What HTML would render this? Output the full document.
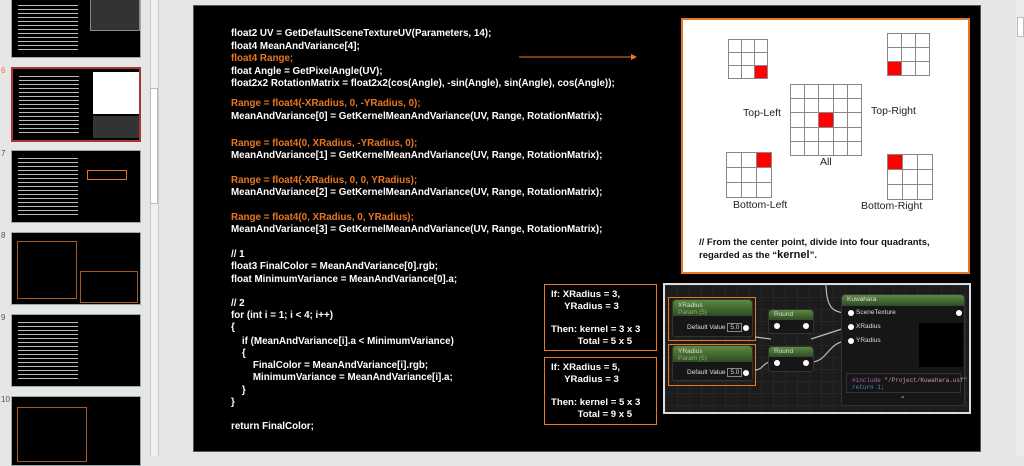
<!DOCTYPE html>
<html><head><meta charset="utf-8"><style>
*{margin:0;padding:0;box-sizing:border-box}
body{width:1024px;height:456px;overflow:hidden;background:#e6e6e6;font-family:"Liberation Sans",Arial,sans-serif;position:relative}
.a{position:absolute}
.th{position:absolute;left:11px;width:130px;background:#000;border:1px solid #9aa;overflow:hidden}
.tx{position:absolute;left:6px;width:60px;background:repeating-linear-gradient(#000 0 2px,#bbb 2px 3px,#000 3px 4px)}
.num{position:absolute;left:1px;font-size:8px;color:#555}
.code{position:absolute;left:231px;top:0;font-size:10.5px;font-weight:bold;color:#fff;white-space:pre;transform:scaleX(0.935);transform-origin:0 0;line-height:12px}
.code div{position:absolute;left:0}
.o{color:#e87722}
.grid{position:absolute;display:grid;border:1px solid #888;background:#888;gap:1px}
.grid b{background:#fff;display:block}
.grid b.r{background:#f00}
.lbl{position:absolute;font-size:10.5px;color:#222;white-space:nowrap}
.cb{position:absolute;border:1.5px solid #e87722;color:#fff;font-size:9.6px;font-weight:bold;line-height:11.8px;padding:4px 0 0 6px;white-space:pre}
.node{position:absolute;background:#161616;border-radius:3px;border:1px solid #333}
.nh{height:16px;background:linear-gradient(#5c8a3e,#2f4a26);border-radius:3px 3px 0 0;color:#ddd;font-size:6.5px;padding:2px 5px;position:relative}
.pin{position:absolute;width:6px;height:6px;border-radius:50%;background:#fff}
.t{position:absolute;font-size:6.5px;color:#ddd;white-space:nowrap}
</style></head><body>
<!-- left panel thumbnails -->
<div class="th" style="top:-20px;height:78px"><div class="tx" style="top:22px;height:50px"></div><div class="a" style="left:78px;top:0;width:50px;height:50px;background:#333;border:1px solid #888"></div></div>
<div class="num" style="top:66px;color:#e87722">6</div>
<div class="th" style="top:67px;height:75px;border:2px solid #a33"><div class="tx" style="top:5px;height:62px"></div><div class="a" style="left:80px;top:3px;width:46px;height:42px;background:#fff"></div><div class="a" style="left:80px;top:47px;width:46px;height:22px;background:#333"></div></div>
<div class="num" style="top:149px">7</div>
<div class="th" style="top:150px;height:73px"><div class="tx" style="top:5px;height:60px"></div><div class="a" style="left:75px;top:19px;width:40px;height:10px;border:1px solid #e87722"></div></div>
<div class="num" style="top:231px">8</div>
<div class="th" style="top:232px;height:73px"><div class="a" style="left:5px;top:8px;width:60px;height:58px;border:1px solid #a55a22"></div><div class="a" style="left:68px;top:38px;width:58px;height:32px;border:1px solid #a55a22"></div></div>
<div class="num" style="top:313px">9</div>
<div class="th" style="top:314px;height:73px"><div class="tx" style="top:5px;height:60px"></div></div>
<div class="num" style="top:395px">10</div>
<div class="th" style="top:396px;height:70px"><div class="a" style="left:5px;top:10px;width:70px;height:55px;border:1px solid #a55a22"></div></div>
<div class="a" style="left:150px;top:0;width:8px;height:456px;background:#f0f0f0;border-left:1px solid #ccc"></div>
<div class="a" style="left:150px;top:88px;width:8px;height:116px;background:#fff;border:1px solid #bbb"></div>
<div class="a" style="left:158px;top:0;width:1px;height:456px;background:#c8c8c8"></div>
<div class="a" style="left:1016px;top:0;width:8px;height:456px;background:#ececec"></div>
<div class="a" style="left:1017px;top:17px;width:7px;height:20px;background:#fff;border:1px solid #bbb"></div>

<!-- slide -->
<div class="a" style="left:193px;top:5px;width:788px;height:447px;background:#000;border:1px solid #556"></div>
<div class="code">
<div style="top:27px">float2 UV = GetDefaultSceneTextureUV(Parameters, 14);</div>
<div style="top:40px">float4 MeanAndVariance[4];</div>
<div style="top:52px" class="o">float4 Range;</div>
<div style="top:65px">float Angle = GetPixelAngle(UV);</div>
<div style="top:77px">float2x2 RotationMatrix = float2x2(cos(Angle), -sin(Angle), sin(Angle), cos(Angle));</div>
<div style="top:97px" class="o">Range = float4(-XRadius, 0, -YRadius, 0);</div>
<div style="top:110px">MeanAndVariance[0] = GetKernelMeanAndVariance(UV, Range, RotationMatrix);</div>
<div style="top:137px" class="o">Range = float4(0, XRadius, -YRadius, 0);</div>
<div style="top:149px">MeanAndVariance[1] = GetKernelMeanAndVariance(UV, Range, RotationMatrix);</div>
<div style="top:174px" class="o">Range = float4(-XRadius, 0, 0, YRadius);</div>
<div style="top:186px">MeanAndVariance[2] = GetKernelMeanAndVariance(UV, Range, RotationMatrix);</div>
<div style="top:211px" class="o">Range = float4(0, XRadius, 0, YRadius);</div>
<div style="top:223px">MeanAndVariance[3] = GetKernelMeanAndVariance(UV, Range, RotationMatrix);</div>
<div style="top:248px">// 1</div>
<div style="top:260px">float3 FinalColor = MeanAndVariance[0].rgb;</div>
<div style="top:273px">float MinimumVariance = MeanAndVariance[0].a;</div>
<div style="top:297px">// 2</div>
<div style="top:309px">for (int i = 1; i &lt; 4; i++)</div>
<div style="top:321px">{</div>
<div style="top:335px">    if (MeanAndVariance[i].a &lt; MinimumVariance)</div>
<div style="top:347px">    {</div>
<div style="top:359px">        FinalColor = MeanAndVariance[i].rgb;</div>
<div style="top:371px">        MinimumVariance = MeanAndVariance[i].a;</div>
<div style="top:384px">    }</div>
<div style="top:396px">}</div>
<div style="top:420px">return FinalColor;</div>
</div>
<svg class="a" style="left:515px;top:52px" width="125" height="10"><line x1="4" y1="5" x2="116" y2="5" stroke="#e87722" stroke-width="1"/><polygon points="116,2 122,5 116,8" fill="#e87722"/></svg>

<!-- white diagram -->
<div class="a" style="left:681px;top:18px;width:289px;height:256px;background:#fff;border:2.5px solid #e87722"></div>
<div class="grid" style="left:728px;top:39px;grid-template-columns:repeat(3,12px);grid-template-rows:repeat(3,12px)"><b></b><b></b><b></b><b></b><b></b><b></b><b></b><b></b><b class="r"></b></div>
<div class="grid" style="left:887px;top:33px;grid-template-columns:repeat(3,13px);grid-template-rows:repeat(3,13px)"><b></b><b></b><b></b><b></b><b></b><b></b><b class="r"></b><b></b><b></b></div>
<div class="grid" style="left:790px;top:84px;grid-template-columns:repeat(5,13.2px);grid-template-rows:repeat(5,13.2px)"><b></b><b></b><b></b><b></b><b></b><b></b><b></b><b></b><b></b><b></b><b></b><b></b><b class="r"></b><b></b><b></b><b></b><b></b><b></b><b></b><b></b><b></b><b></b><b></b><b></b><b></b></div>
<div class="grid" style="left:726px;top:152px;grid-template-columns:repeat(3,14px);grid-template-rows:repeat(3,14px)"><b></b><b></b><b class="r"></b><b></b><b></b><b></b><b></b><b></b><b></b></div>
<div class="grid" style="left:887px;top:154px;grid-template-columns:repeat(3,14px);grid-template-rows:repeat(3,14px)"><b class="r"></b><b></b><b></b><b></b><b></b><b></b><b></b><b></b><b></b></div>
<div class="lbl" style="left:743px;top:107px">Top-Left</div>
<div class="lbl" style="left:871px;top:105px">Top-Right</div>
<div class="lbl" style="left:820px;top:156px">All</div>
<div class="lbl" style="left:733px;top:199px">Bottom-Left</div>
<div class="lbl" style="left:861px;top:200px">Bottom-Right</div>
<div class="lbl" style="left:699px;top:236px;font-size:9.5px;font-weight:bold;line-height:13px;color:#111">// From the center point, divide into four quadrants,<br>regarded as the “<span style="font-size:11px">kernel</span>”.</div>

<!-- condition boxes -->
<div class="cb" style="left:544px;top:284px;width:113px;height:67px">If: XRadius = 3,
     YRadius = 3

Then: kernel = 3 x 3
          Total = 5 x 5</div>
<div class="cb" style="left:544px;top:357px;width:113px;height:68px">If: XRadius = 5,
     YRadius = 3

Then: kernel = 5 x 3
          Total = 9 x 5</div>

<!-- node graph -->
<div class="a" style="left:663px;top:283px;width:308px;height:131px;border:2px solid #ddd;background-color:#1c1c1c;background-image:linear-gradient(#262626 1px,transparent 1px),linear-gradient(90deg,#262626 1px,transparent 1px);background-size:12px 12px"></div>
<div class="a" style="left:668px;top:297px;width:88px;height:44px;border:1.5px solid #e87722"></div>
<div class="a" style="left:668px;top:344px;width:88px;height:42px;border:1.5px solid #e87722"></div>
<svg class="a" style="left:663px;top:283px" width="308" height="131">
<g stroke="#bbb" stroke-width="1.2" fill="none">
<path d="M163,0 C163,25 170,30 185,30"/>
<path d="M92,54 L108,56"/>
<path d="M148,56 L185,44"/>
<path d="M92,87 C100,87 100,79 108,79"/>
<path d="M148,79 C165,79 165,58 185,58"/>
<path d="M295,30 L302,30"/>
</g></svg>
<div class="node" style="left:672px;top:299px;width:81px;height:38px"><div class="nh">XRadius<br><span style="color:#8fb070">Param (5)</span></div><div class="t" style="left:14px;top:24px">Default Value <span style="border:1px solid #888;padding:0 2px">5.0</span></div><div class="pin" style="left:70px;top:25px"></div></div>
<div class="node" style="left:672px;top:345px;width:81px;height:36px"><div class="nh">YRadius<br><span style="color:#8fb070">Param (5)</span></div><div class="t" style="left:14px;top:23px">Default Value <span style="border:1px solid #888;padding:0 2px">5.0</span></div><div class="pin" style="left:70px;top:24px"></div></div>
<div class="node" style="left:768px;top:309px;width:46px;height:25px"><div class="nh" style="height:10px;padding:1px 5px">Round</div><div class="pin" style="left:5px;top:13px"></div><div class="pin" style="left:34px;top:13px"></div></div>
<div class="node" style="left:768px;top:346px;width:46px;height:26px"><div class="nh" style="height:10px;padding:1px 5px">Round</div><div class="pin" style="left:5px;top:13px"></div><div class="pin" style="left:34px;top:13px"></div></div>
<div class="node" style="left:841px;top:294px;width:124px;height:112px"><div class="nh" style="height:11px;padding:1px 5px">Kuwahara</div>
<div class="pin" style="left:6px;top:15px"></div><div class="t" style="left:14px;top:14px">SceneTexture</div>
<div class="pin" style="left:6px;top:29px"></div><div class="t" style="left:14px;top:28px">XRadius</div>
<div class="pin" style="left:6px;top:43px"></div><div class="t" style="left:14px;top:42px">YRadius</div>
<div class="pin" style="left:114px;top:15px"></div>
<div class="a" style="left:77px;top:28px;width:44px;height:44px;background:#000"></div>
<div class="a" style="left:4px;top:78px;width:115px;height:20px;border:1px solid #333;font-family:'Liberation Mono',monospace;font-size:6px;color:#5c7fc0;padding:3px 5px;line-height:7px;white-space:pre"><span style="color:#b060b0">#include</span> <span style="color:#c99">"/Project/Kuwahara.usf"</span>
return 1;</div>
<div class="t" style="left:58px;top:100px">⌃</div>
</div>
</body></html>
